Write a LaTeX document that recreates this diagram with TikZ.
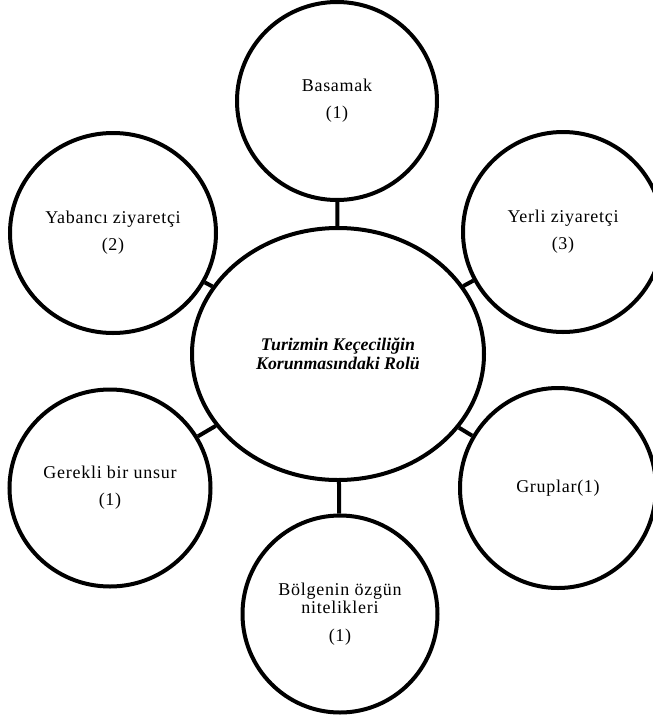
\documentclass[tikz,border=0pt]{standalone}
\usepackage{fontspec}
\setmainfont{Liberation Serif}
\usetikzlibrary{shapes.geometric}
\tikzset{
  bubble/.style={draw=black, line width=4pt, ellipse, inner sep=0pt, align=center,
    font=\addfontfeatures{LetterSpace=4}\fontsize{18}{18}\selectfont},
  hub/.style={draw=black, line width=4pt, ellipse, inner sep=0pt, align=center,
    font=\fontsize{17.8}{19}\selectfont\bfseries\itshape},
  link/.style={draw=black, line width=4pt}
}
\begin{document}
\begin{tikzpicture}[x=1pt, y=-1pt]
  \useasboundingbox (0,0) rectangle (653,721);
  \fill[white] (0,0) rectangle (653,721);
  \clip (0,0) rectangle (653,721);
  \node[hub, minimum width=292pt, minimum height=252pt] (c) at (338,354)
    {Turizmin Keçeciliğin\\Korunmasındaki Rolü};
  \node[bubble, minimum width=200pt, minimum height=198pt] (top) at (337,101)
    {Basamak\\[9pt](1)};
  \node[bubble, minimum width=206pt, minimum height=200pt] (yab) at (113,233)
    {Yabancı ziyaretçi\\[9pt](2)};
  \node[bubble, minimum width=200pt, minimum height=200pt] (yer) at (563,232)
    {Yerli ziyaretçi\\[9pt](3)};
  \node[bubble, minimum width=201pt, minimum height=197pt] (ger) at (110,488)
    {Gerekli bir unsur\\[9pt](1)};
  \node[bubble, minimum width=196pt, minimum height=200pt] (gru) at (558,488)
    {Gruplar(1)};
  \node[bubble, minimum width=195pt, minimum height=197pt] (bol) at (340,614)
    {Bölgenin özgün\\nitelikleri\\[10pt](1)};
  \draw[link] (c) -- (top);
  \draw[link] (c) -- (yab);
  \draw[link] (c) -- (yer);
  \draw[link] (c) -- (ger);
  \draw[link] (c) -- (gru);
  \draw[link] (c) -- (bol);
\end{tikzpicture}
\end{document}
